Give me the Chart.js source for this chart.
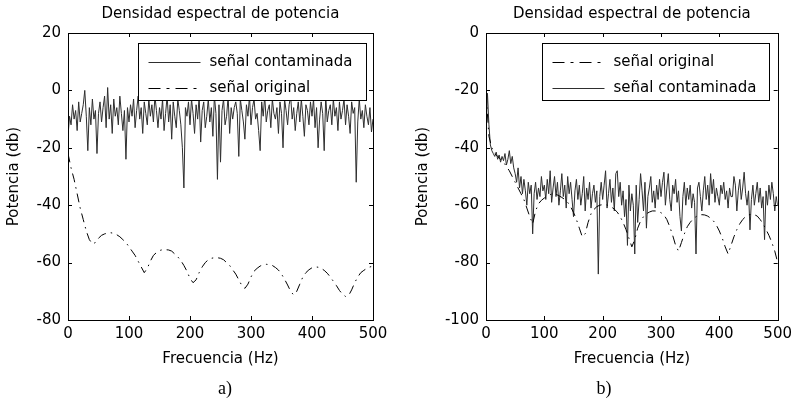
<!DOCTYPE html>
<html>
<head>
<meta charset="utf-8">
<script src="https://cdn.jsdelivr.net/npm/chart.js@4/dist/chart.umd.min.js"></script>
<style>
  body { margin: 0; background: #fff; }
  #wrap { position: relative; width: 797px; height: 401px; overflow: hidden; }
  canvas { position: absolute; top: 0; }
  .lbl { position: absolute; font-family: "Liberation Serif", "Times New Roman", serif; font-size: 18px; color: #000; transform: translate(-50%, -50%); }
</style>
</head>
<body>
<div id="wrap">
  <canvas id="chartA" width="400" height="401" style="left:0"></canvas>
  <canvas id="chartB" width="397" height="401" style="left:400px"></canvas>
  <div class="lbl" style="left:225px; top:388px">a)</div>
  <div class="lbl" style="left:604px; top:388px">b)</div>
</div>
<script>
// frequency grids (Hz)
var freqNoisyStep = 2.5
var freqSmoothStep = 5

// a) left panel
var contaminadaA = [
  -16, -9, -12, -5, -10, -7, -14, -4, -11, -8, -5, 0, -9, -21, -6, -12, -3, -10, -7, -22,
  -8, -4, -11, -6, -2, -13, 1, -10, -5, -15, -3, -9, -6, -12, -2, -8, -14, -7, -24, -6,
  -11, -5, -9, -3, -13, -7, -2, -10, -6, -15, -4, -8, -12, -3, -9, -5, -11, -2, -7, -13,
  -6, -10, -3, -14, -8, -2, -11, -5, -17, -4, -9, -13, -3, -7, -12, -20, -34, -6, -9, -4,
  -12, -3, -8, -15, -5, -10, -2, -18, -7, -4, -13, -9, -3, -11, -6, -16, -2, -8, -31, -5,
  -25, -7, -3, -12, -9, -2, -15, -6, -10, -6, -4, -8, -23, -3, -7, -11, -17, -5, -9, -2,
  -12, -6, -3, -10, -8, -14, -21, -4, -9, -2, -11, -7, -5, -13, -3, -8, -10, -6, -15, -4,
  -8, -20, -3, -7, -12, -5, -2, -10, -6, -14, -8, -4, -11, -3, -9, -16, -5, -7, -12, -4,
  -9, -3, -13, -6, -20, -10, -4, -8, -21, -2, -11, -7, -5, -12, -3, -9, -6, -14, -4, -10,
  -7, -3, -12, -5, -9, -15, -4, -8, -6, -32, -11, -3, -10, -7, -13, -5, -9, -12, -6, -14.5, -10
]
var originalA = [
  -22, -27, -31, -36, -41, -45, -49, -52, -53.5, -53, -51.5, -50.5, -50, -49.7, -49.6, -49.8, -50.3, -51, -52, -53,
  -54.5, -56, -57.5, -59.5, -61.5, -63.5, -62, -59.5, -57.5, -56.5, -55.8, -55.5, -55.5, -55.6, -56, -57, -58, -59.3, -61, -63,
  -65.5, -67, -66, -63.5, -61.5, -60, -59, -58.5, -58.3, -58.3, -58.5, -59, -60, -61, -62.5, -64, -66, -68, -69, -67.5,
  -65, -63, -62, -61.2, -60.8, -60.6, -60.7, -61, -61.7, -62.6, -64, -65.8, -67.8, -70, -71.3, -70, -67.5, -65, -63.5, -62.5,
  -61.8, -61.5, -61.6, -62, -62.7, -63.7, -65, -66.5, -68, -69.7, -71, -71.8, -71.5, -69.5, -67, -65, -63.5, -62.7, -62, -61.5,
  -61.3
]

// b) right panel
var contaminadaB = [
  -33, -21, -32, -39, -41, -42, -43, -41.5, -44, -42.5, -45, -43, -44.5, -42, -46, -44, -41, -45.5, -43, -47,
  -49, -52, -47, -54, -50, -56, -51, -55, -60, -52, -56, -53, -70, -56, -52, -58, -54, -57, -50, -55,
  -53, -58, -51, -56, -48, -59, -54, -50, -57, -52, -60, -55, -49, -57, -53, -61, -50, -56, -52, -58,
  -64, -55, -51, -58, -53, -60, -56, -50, -62, -54, -58, -52, -61, -56, -53, -59, -55, -84, -57, -52,
  -58, -53, -48, -61, -56, -51, -59, -54, -62, -49, -48, -57, -52, -60, -55, -64, -58, -74, -53, -62,
  -56, -60, -77, -53, -66, -58, -49, -55, -62, -52, -68, -57, -54, -50, -59, -55, -61, -53, -58, -51,
  -57, -52, -48.5, -60, -54, -49, -58, -62, -53, -56, -51, -59, -55, -64, -69, -57, -52, -60, -54, -58,
  -53, -61, -56, -59, -77, -54, -52, -57, -62, -55, -50, -58, -53, -60, -49, -56, -51, -59, -54, -57,
  -60, -53, -56, -52, -58, -55, -61, -54, -57, -57, -50, -53, -62, -55, -51, -58, -54, -48.5, -56, -60,
  -55, -68.6, -58, -53, -60, -56, -52, -59, -54, -61, -57, -72, -55, -60, -53, -58, -52, -56, -62, -57, -60
]
var originalB = [
  -21, -36, -40, -42, -43, -44, -45, -46.5, -48, -50, -52, -54, -56, -58, -61, -64, -66.5, -62, -59.5, -58.3,
  -57.5, -56.8, -56.3, -56, -56.2, -56.7, -57.3, -58, -59, -60.5, -62.5, -65, -68, -71, -70, -66, -63, -61.5, -60.5, -60,
  -59.8, -59.8, -60.1, -60.6, -61.4, -62.4, -64, -66, -68.5, -71.5, -74.5, -72, -68, -65.5, -64, -63, -62.4, -62, -62, -62.2,
  -62.6, -63.4, -65, -67.5, -70.5, -74, -76, -73, -70, -67.5, -66, -64.8, -64, -63.5, -63.3, -63.4, -63.8, -64.5, -65.5, -67,
  -69, -71.5, -74.5, -77, -74, -71, -68.5, -66.5, -65, -64, -63.4, -63.2, -63.3, -63.8, -65, -66.5, -68.5, -70.5, -73, -76,
  -80
]

var labelContaminada = 'señal contaminada'
var labelOriginal = 'señal original'
var fontFamily = '"DejaVu Sans", Arial, sans-serif'

function toPoints(values, step) {
  var pts = []
  for (var i = 0; i < values.length; i++) {
    pts.push({ x: i * step, y: values[i] })
  }
  return pts
}

// box around plot, inward ticks and an opaque legend like matlab
var matlabFrame = {
  id: 'matlabFrame',
  afterDatasetsDraw: function(chart, args, opts) {
    var ctx = chart.ctx
    var a = chart.chartArea
    var xs = chart.scales.x, ys = chart.scales.y
    var tl = 4
    ctx.save()
    ctx.strokeStyle = '#000'
    ctx.lineWidth = 1
    ctx.beginPath()
    xs.ticks.forEach(function(t) {
      var px = Math.round(xs.getPixelForValue(t.value)) + 0.5
      ctx.moveTo(px, a.bottom); ctx.lineTo(px, a.bottom - tl)
      ctx.moveTo(px, a.top); ctx.lineTo(px, a.top + tl)
    })
    ys.ticks.forEach(function(t) {
      var py = Math.round(ys.getPixelForValue(t.value)) + 0.5
      ctx.moveTo(a.left, py); ctx.lineTo(a.left + tl, py)
      ctx.moveTo(a.right, py); ctx.lineTo(a.right - tl, py)
    })
    ctx.stroke()
    ctx.strokeRect(Math.round(a.left) + 0.5, Math.round(a.top) + 0.5,
      Math.round(a.right - a.left), Math.round(a.bottom - a.top))

    // legend
    var bw = opts.width, bh = 57
    var bx = Math.round(a.right - opts.right - bw) + 0.5
    var by = Math.round(a.top + 10) + 0.5
    ctx.fillStyle = '#fff'
    ctx.fillRect(bx, by, bw, bh)
    ctx.strokeStyle = '#000'
    ctx.strokeRect(bx, by, bw, bh)
    ctx.font = '15px ' + fontFamily
    ctx.textBaseline = 'middle'
    ctx.fillStyle = '#000'
    chart.data.datasets.forEach(function(ds, i) {
      var cy = Math.round(by + 18 + i * 26) + 0.5
      ctx.save()
      ctx.strokeStyle = ds.borderColor
      ctx.lineWidth = 1
      ctx.setLineDash(ds.legendDash || [])
      ctx.beginPath()
      ctx.moveTo(bx + 10, cy); ctx.lineTo(bx + 62, cy)
      ctx.stroke()
      ctx.restore()
      ctx.fillText(ds.label, bx + 71, cy)
    })
    ctx.restore()
  }
}

function makeChart(el, datasets, yMin, yMax, pad, yWidth, legendOpts) {
  return new Chart(el, {
    type: 'line',
    data: { datasets: datasets },
    options: {
      responsive: false,
      animation: false,
      layout: { padding: pad },
      elements: { point: { radius: 0 }, line: { tension: 0 } },
      plugins: {
        legend: { display: false },
        tooltip: { enabled: false },
        title: {
          display: true,
          text: 'Densidad espectral de potencia',
          fullSize: false,
          color: '#000',
          font: { family: fontFamily, size: 15, weight: 'normal' },
          padding: { top: 5, bottom: 10 }
        },
        matlabFrame: legendOpts
      },
      scales: {
        x: {
          type: 'linear', min: 0, max: 500,
          grid: { display: false, drawTicks: false },
          border: { display: false },
          ticks: { stepSize: 100, padding: 5, color: '#000', maxRotation: 0,
                   font: { family: fontFamily, size: 15 } },
          title: { display: true, text: 'Frecuencia (Hz)', color: '#000',
                   font: { family: fontFamily, size: 15 }, padding: { top: 0, bottom: 2 } },
          afterFit: function(s) { s.height = 50 }
        },
        y: {
          min: yMin, max: yMax,
          grid: { display: false, drawTicks: false },
          border: { display: false },
          ticks: { stepSize: 20, padding: 7, color: '#000',
                   font: { family: fontFamily, size: 15 } },
          title: { display: true, text: 'Potencia (db)', color: '#000',
                   font: { family: fontFamily, size: 15 }, padding: { top: 5, bottom: 0 } },
          afterFit: function(s) { s.width = yWidth }
        }
      }
    },
    plugins: [matlabFrame]
  })
}

var solidStyle = { borderColor: '#2e2e2e', borderWidth: 1, fill: false }
var dashStyle = { borderColor: '#000', borderWidth: 1, borderDash: [9, 5, 1.5, 5], legendDash: [12, 6, 3, 6], fill: false }

makeChart(document.getElementById('chartA'), [
  Object.assign({ label: labelContaminada, data: toPoints(contaminadaA, freqNoisyStep), order: 1 }, solidStyle),
  Object.assign({ label: labelOriginal, data: toPoints(originalA, freqSmoothStep), order: 0 }, dashStyle)
], -80, 20, { left: 0, right: 27, top: 0, bottom: 31 }, 68, { width: 228, right: 7 })

makeChart(document.getElementById('chartB'), [
  Object.assign({ label: labelOriginal, data: toPoints(originalB, freqSmoothStep), order: 0 }, dashStyle),
  Object.assign({ label: labelContaminada, data: toPoints(contaminadaB, freqNoisyStep), order: 1 }, solidStyle)
], -100, 0, { left: 9, right: 15, top: 0, bottom: 31 }, 77, { width: 227, right: 9 })
</script>
</body>
</html>
